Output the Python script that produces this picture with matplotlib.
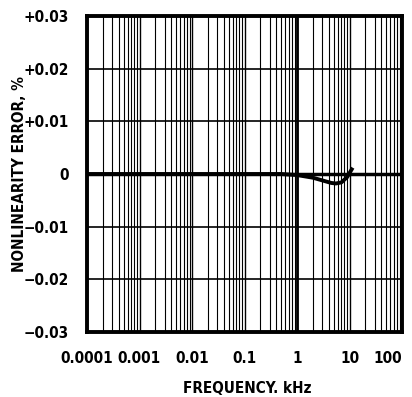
import numpy as np
import matplotlib.pyplot as plt
from matplotlib.ticker import FixedLocator, NullFormatter

# data
freq_khz = [0.0001, 0.001, 0.01, 0.1, 0.5, 1.0, 2.0, 3.0, 4.5, 5.5, 7.0, 9.0, 11.5]
error_pct = [0.0, 0.0, 0.0, 0.0, 0.0, -0.0002, -0.0007, -0.0012, -0.0017, -0.0018, -0.0016, -0.0006, 0.0012]

x_ticks = [0.0001, 0.001, 0.01, 0.1, 1, 10, 100]
x_labels = ["0.0001", "0.001", "0.01", "0.1", "1", "10", "100"]
y_ticks = [-0.03, -0.02, -0.01, 0.0, 0.01, 0.02, 0.03]
y_labels = ["\u22120.03", "\u22120.02", "\u22120.01", "0", "+0.01", "+0.02", "+0.03"]

fs = 11

fig = plt.figure(figsize=(4.12, 3.97), dpi=100)
ax = fig.add_axes([87 / 412, 1 - 332 / 397, 315 / 412, 316 / 397])

ax.set_xscale("log")
ax.set_xlim(0.0001, 100)
ax.set_ylim(-0.03, 0.03)

# vertical grid on every log sub-division
minor = [m * 10.0 ** e for e in range(-4, 2) for m in range(2, 10)]
ax.xaxis.set_minor_locator(FixedLocator(minor))
ax.xaxis.set_minor_formatter(NullFormatter())
ax.set_xticks(x_ticks)
ax.set_xticklabels(x_labels)
ax.set_yticks(y_ticks)
ax.set_yticklabels(y_labels)

for x in minor:
    ax.axvline(x, color="black", linewidth=0.8, zorder=1)
for x in x_ticks:
    ax.axvline(x, color="black", linewidth=1.0, zorder=1)
ax.axvline(1, color="black", linewidth=2.0, zorder=1)
for y in y_ticks:
    ax.axhline(y, color="black", linewidth=1.2, zorder=1)
ax.axhline(0, color="black", linewidth=2.5, zorder=1)

ax.plot(freq_khz, error_pct, color="black", linewidth=2.8, zorder=3,
        solid_capstyle="butt")

for s in ax.spines.values():
    s.set_linewidth(2.8)

ax.tick_params(which="both", length=0)
ax.tick_params(axis="x", pad=14)
ax.tick_params(axis="y", pad=13)
for lab in ax.get_xticklabels() + ax.get_yticklabels():
    lab.set_fontfamily("DejaVu Sans")
    lab.set_fontstretch("condensed")
    lab.set_fontweight("bold")
    lab.set_fontsize(fs)
# last x label sits inside the figure edge
ax.get_xticklabels()[-1].set_ha("right")

ax.set_xlabel("FREQUENCY. kHz", family="DejaVu Sans", stretch="condensed",
              weight="bold", fontsize=fs)
ax.set_ylabel("NONLINEARITY ERROR, %", family="DejaVu Sans", stretch="condensed",
              weight="bold", fontsize=fs)
ax.xaxis.set_label_coords(0.51, -0.18)
ax.yaxis.set_label_coords(-0.213, 0.5)
ax.xaxis.label.set_va("center")
ax.yaxis.label.set_va("center")

fig.savefig("out.png", dpi=100)
